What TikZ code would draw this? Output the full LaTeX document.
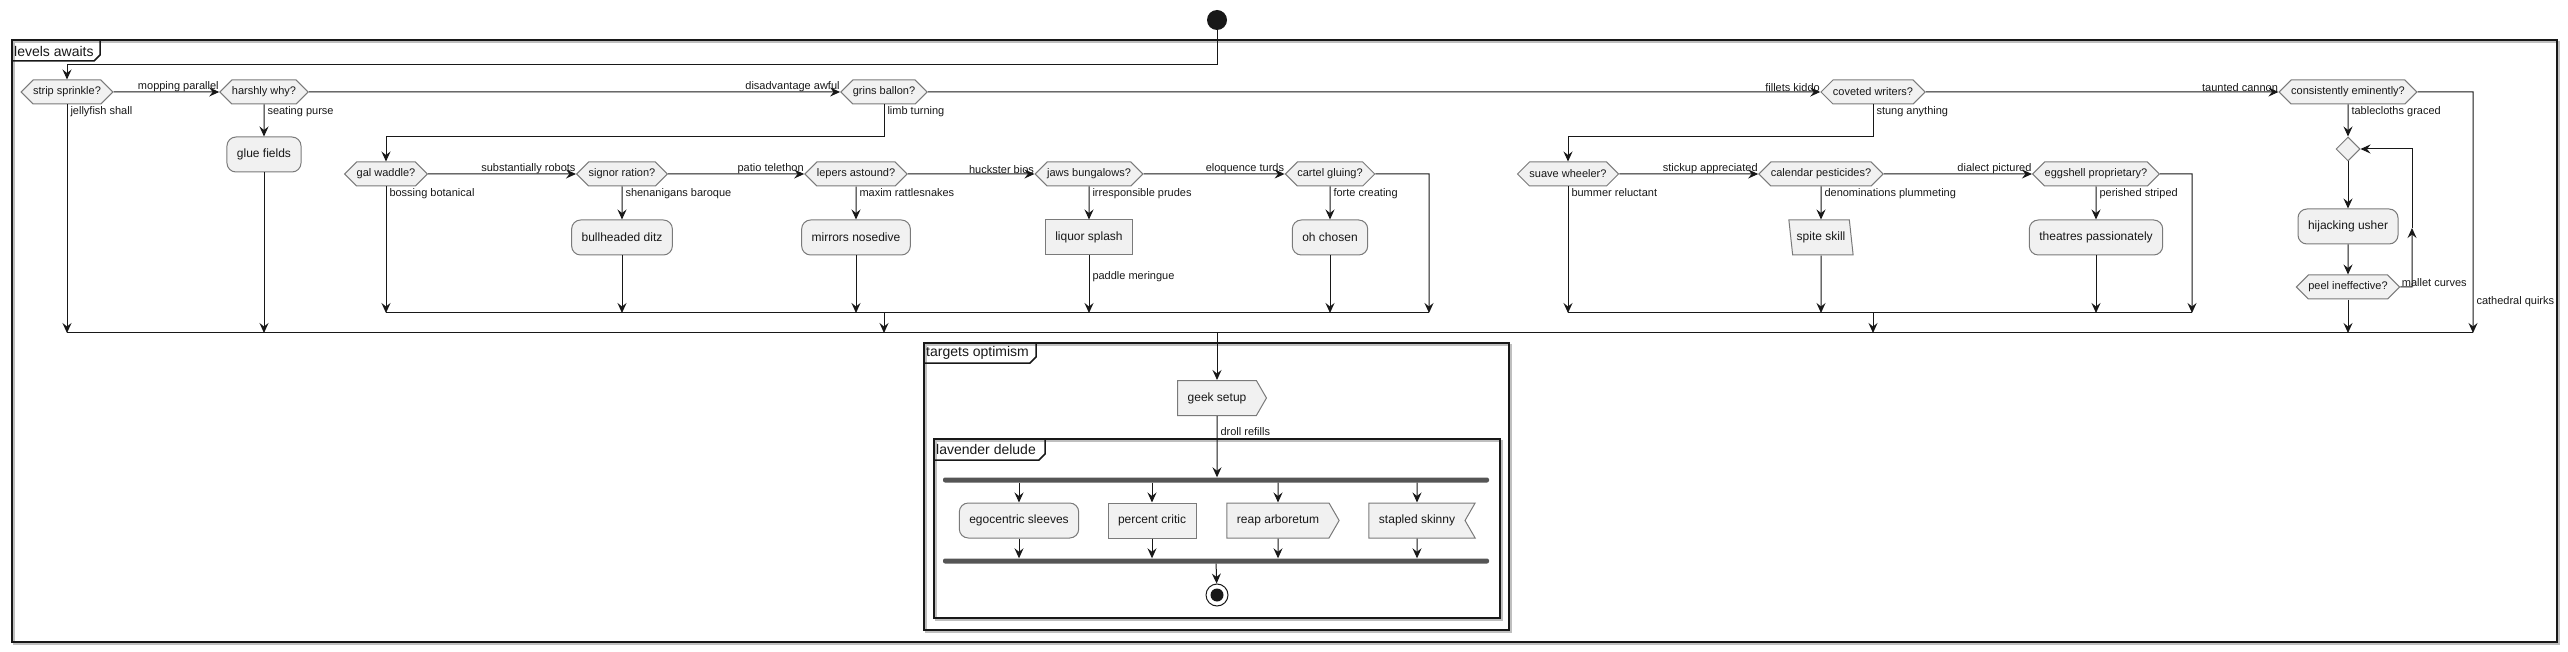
\documentclass[tikz,border=0pt]{standalone}
\usepackage{fontspec}
\setmainfont{Liberation Sans}
\usetikzlibrary{shapes.symbols,shapes.geometric,arrows.meta}

\definecolor{ink}{HTML}{181818}
\definecolor{boxfill}{HTML}{F1F1F1}
\definecolor{boxline}{HTML}{7A7A7A}
\definecolor{barfill}{HTML}{555555}

\tikzset{
    flow/.style={draw=ink, line width=1pt, -{Stealth[length=10pt, width=9pt, inset=3.5pt]}},
    wire/.style={draw=ink, line width=1pt},
    frame/.style={draw=ink, line width=1.5pt},
    frameshade/.style={draw=black!25, line width=1.5pt},
    title/.style={anchor=west, inner sep=0pt, text=ink, font=\fontsize{14}{16}\selectfont},
    lbl/.style={inner sep=0pt, text=ink, font=\fontsize{11}{13}\selectfont},
    choice/.style={shape=signal, signal to=west and east, signal pointer angle=90,
        draw=boxline, line width=1pt, fill=boxfill, minimum height=24pt, inner xsep=0pt, inner ysep=0pt,
        text=ink, font=\fontsize{11}{13}\selectfont},
    act/.style={draw=boxline, line width=1pt, fill=boxfill, rounded corners=9pt, minimum height=35pt,
        inner xsep=10pt, text=ink, font=\fontsize{12}{14}\selectfont},
    plainact/.style={act, sharp corners},
    sendact/.style={act, sharp corners, shape=signal, signal to=east, signal pointer angle=120},
    recvact/.style={act, sharp corners, shape=signal, signal to=nowhere, signal from=east, signal pointer angle=120},
    slantact/.style={act, sharp corners, shape=trapezium, trapezium stretches=true,
        trapezium left angle=102, trapezium right angle=78, inner xsep=4pt},
    bar/.style={fill=barfill, draw=none, minimum height=5pt, inner sep=0pt, rounded corners=2pt},
}

\begin{document}
\begin{tikzpicture}[x=1pt, y=-1pt]
    \useasboundingbox (0,0) rectangle (2568,652);

    % frames
    \draw[frameshade, shift={(2,2)}] (12,40) rectangle (2557,642);
    \draw[frame] (12,40) rectangle (2557,642);
    \draw[frame] (12,61) -- (94,61) -- (100,55) -- (100,40);
    \node[title] (levels) at (14,51) {levels awaits};

    \draw[frameshade, shift={(2,2)}] (924,343) rectangle (1509,630);
    \draw[frame] (924,343) rectangle (1509,630);
    \draw[frame] (924,363) -- (1030,363) -- (1036,357) -- (1036,343);
    \node[title] (targets) at (926,353) {targets optimism};

    \draw[frameshade, shift={(2,2)}] (934,439) rectangle (1500,618);
    \draw[frame] (934,439) rectangle (1500,618);
    \draw[frame] (934,460) -- (1039,460) -- (1045,454) -- (1045,439);
    \node[title] (lavender) at (936,449) {lavender delude};

    % rows
    \coordinate (top) at (1217,65);
    \coordinate (r2top) at (0,137);
    \coordinate (inner) at (0,313);
    \coordinate (merge0) at (0,333);

    \node[circle, fill=ink, minimum size=20pt, inner sep=0pt] (start) at (1217,20) {};

    \node[choice] (strip) at (67,92) {strip sprinkle?};
    \node[choice] (harshly) at (264,92) {harshly why?};
    \node[choice] (grins) at (884,92) {grins ballon?};
    \node[choice] (coveted) at (1873,92) {coveted writers?};
    \node[choice] (consist) at (2348,92) {consistently eminently?};

    \node[act] (glue) at (264,154.5) {glue fields};

    \node[choice] (gal) at (386,174) {gal waddle?};
    \node[choice] (signor) at (622,174) {signor ration?};
    \node[choice] (lepers) at (856,174) {lepers astound?};
    \node[choice] (jaws) at (1089,174) {jaws bungalows?};
    \node[choice] (cartel) at (1330,174) {cartel gluing?};
    \node[choice] (suave) at (1568,174) {suave wheeler?};
    \node[choice] (calendar) at (1821,174) {calendar pesticides?};
    \node[choice] (eggshell) at (2096,174) {eggshell proprietary?};

    \node[act] (bull) at (622,237.5) {bullheaded ditz};
    \node[act] (mirrors) at (856,237.5) {mirrors nosedive};
    \node[plainact] (liquor) at (1089,237.5) {liquor splash};
    \node[act] (chosen) at (1330,237.5) {oh chosen};
    \node[slantact] (spite) at (1821,237.5) {spite skill};
    \node[act] (theatres) at (2096,237.5) {theatres passionately};

    \node[diamond, draw=boxline, line width=1pt, fill=boxfill, minimum size=24pt, inner sep=0pt] (loopd) at (2348,149) {};
    \node[act] (hijack) at (2348,226.5) {hijacking usher};
    \node[choice] (peel) at (2348,287) {peel ineffective?};

    \coordinate (cartelx) at (1429,174);
    \coordinate (eggx) at (2192,174);
    \coordinate (loopup) at (2412,228);
    \coordinate (quirk) at (2473,92);

    \node[sendact] (geek) at (1217,398) {geek setup};
    \node[bar, minimum width=546pt] (fork) at (1216,480) {};
    \node[act] (ego) at (1019,520.5) {egocentric sleeves};
    \node[plainact] (percent) at (1152,520.5) {percent critic};
    \node[sendact] (reap) at (1278,520.5) {reap arboretum};
    \node[recvact] (stapled) at (1417,520.5) {stapled skinny};
    \node[bar, minimum width=546pt] (join) at (1216,561) {};
    \node[circle, draw=ink, line width=1pt, minimum size=22pt, inner sep=0pt] (stop) at (1217,595) {};
    \node[circle, fill=ink, minimum size=13pt, inner sep=0pt] (stopdot) at (stop) {};

    % start
    \draw[flow] (start) -- (top) -| (strip);

    % row 1
    \draw[flow] (strip) -- node[lbl, pos=1, anchor=south east] {mopping parallel} (harshly);
    \draw[flow] (harshly) -- node[lbl, pos=1, anchor=south east] {disadvantage awful} (grins);
    \draw[flow] (grins) -- node[lbl, pos=1, anchor=south east] {fillets kiddo} (coveted);
    \draw[flow] (coveted) -- node[lbl, pos=1, anchor=south east] {taunted cannon} (consist);

    \draw[flow] (strip) -- node[lbl, pos=0, anchor=north west, xshift=3pt, yshift=-2pt] {jellyfish shall} (strip |- merge0);
    \draw[flow] (harshly) -- node[lbl, pos=0, anchor=north west, xshift=3pt, yshift=-2pt] {seating purse} (glue);
    \draw[flow] (glue) -- (glue |- merge0);

    % grins branch
    \draw[flow] (grins) -- node[lbl, pos=0, anchor=north west, xshift=3pt, yshift=-2pt] {limb turning} (grins |- r2top) -| (gal);
    \draw[flow] (gal) -- node[lbl, pos=1, anchor=south east] {substantially robots} (signor);
    \draw[flow] (signor) -- node[lbl, pos=1, anchor=south east] {patio telethon} (lepers);
    \draw[flow] (lepers) -- node[lbl, pos=1, anchor=south east] {huckster bios} (jaws);
    \draw[flow] (jaws) -- node[lbl, pos=1, anchor=south east] {eloquence turds} (cartel);

    \draw[flow] (gal) -- node[lbl, pos=0, anchor=north west, xshift=3pt, yshift=-2pt] {bossing botanical} (gal |- inner);
    \draw[flow] (signor) -- node[lbl, pos=0, anchor=north west, xshift=3pt, yshift=-2pt] {shenanigans baroque} (bull);
    \draw[flow] (bull) -- (bull |- inner);
    \draw[flow] (lepers) -- node[lbl, pos=0, anchor=north west, xshift=3pt, yshift=-2pt] {maxim rattlesnakes} (mirrors);
    \draw[flow] (mirrors) -- (mirrors |- inner);
    \draw[flow] (jaws) -- node[lbl, pos=0, anchor=north west, xshift=3pt, yshift=-2pt] {irresponsible prudes} (liquor);
    \draw[flow] (liquor) -- node[lbl, pos=0.36, anchor=west, xshift=3pt] {paddle meringue} (liquor |- inner);
    \draw[flow] (cartel) -- node[lbl, pos=0, anchor=north west, xshift=3pt, yshift=-2pt] {forte creating} (chosen);
    \draw[flow] (chosen) -- (chosen |- inner);
    \draw[flow] (cartel) -- (cartelx) -- (cartelx |- inner);
    \draw[wire] (gal |- inner) -- (cartelx |- inner);
    \draw[flow] (grins |- inner) -- (grins |- merge0);

    % coveted branch
    \draw[flow] (coveted) -- node[lbl, pos=0, anchor=north west, xshift=3pt, yshift=-2pt] {stung anything} (coveted |- r2top) -| (suave);
    \draw[flow] (suave) -- node[lbl, pos=1, anchor=south east] {stickup appreciated} (calendar);
    \draw[flow] (calendar) -- node[lbl, pos=1, anchor=south east] {dialect pictured} (eggshell);

    \draw[flow] (suave) -- node[lbl, pos=0, anchor=north west, xshift=3pt, yshift=-2pt] {bummer reluctant} (suave |- inner);
    \draw[flow] (calendar) -- node[lbl, pos=0, anchor=north west, xshift=3pt, yshift=-2pt] {denominations plummeting} (spite);
    \draw[flow] (spite) -- (spite |- inner);
    \draw[flow] (eggshell) -- node[lbl, pos=0, anchor=north west, xshift=3pt, yshift=-2pt] {perished striped} (theatres);
    \draw[flow] (theatres) -- (theatres |- inner);
    \draw[flow] (eggshell) -- (eggx) -- (eggx |- inner);
    \draw[wire] (suave |- inner) -- (eggx |- inner);
    \draw[flow] (coveted |- inner) -- (coveted |- merge0);

    % loop
    \draw[flow] (consist) -- node[lbl, pos=0, anchor=north west, xshift=3pt, yshift=-2pt] {tablecloths graced} (loopd);
    \draw[flow] (loopd) -- (hijack);
    \draw[flow] (hijack) -- (peel);
    \draw[flow] (peel) -- node[lbl, pos=0, anchor=south west, xshift=1pt] {mallet curves} (peel -| loopup) -- (loopup);
    \draw[flow] (loopup) |- (loopd);
    \draw[flow] (peel) -- (peel |- merge0);
    \draw[flow] (consist) -- (quirk) -- node[lbl, pos=0.87, anchor=west, xshift=3pt] {cathedral quirks} (quirk |- merge0);

    % merge
    \draw[wire] (strip |- merge0) -- (quirk |- merge0);
    \draw[flow] (start |- merge0) -- (geek);

    % targets optimism
    \draw[flow] (geek) -- node[lbl, pos=0, anchor=north west, xshift=3pt, yshift=-11pt] {droll refills} (geek |- fork.north);
    \draw[flow] (fork.south -| ego) -- (ego);
    \draw[flow] (fork.south -| percent) -- (percent);
    \draw[flow] (fork.south -| reap) -- (reap);
    \draw[flow] (fork.south -| stapled) -- (stapled);
    \draw[flow] (ego) -- (ego |- join.north);
    \draw[flow] (percent) -- (percent |- join.north);
    \draw[flow] (reap) -- (reap |- join.north);
    \draw[flow] (stapled) -- (stapled |- join.north);
    \draw[flow] (join) -- (stop);
\end{tikzpicture}
\end{document}
